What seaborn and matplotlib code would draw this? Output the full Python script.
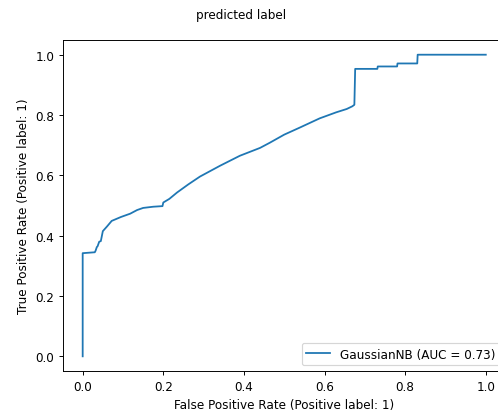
import matplotlib
matplotlib.use("Agg")
import matplotlib.pyplot as plt
import seaborn as sns
import pandas as pd

# ROC curve points (GaussianNB)
fpr = [0.0, 0.0, 0.030, 0.032, 0.035, 0.037, 0.041, 0.045, 0.047, 0.050,
       0.060, 0.072, 0.095, 0.118, 0.135, 0.150, 0.175, 0.198, 0.200, 0.215,
       0.234, 0.262, 0.291, 0.341, 0.390, 0.440, 0.464, 0.500, 0.538, 0.588,
       0.629, 0.655, 0.669, 0.674, 0.676, 0.731, 0.732, 0.780, 0.781, 0.830,
       0.831, 1.0]
tpr = [0.0, 0.342, 0.345, 0.350, 0.362, 0.365, 0.380, 0.382, 0.395, 0.415,
       0.430, 0.449, 0.462, 0.473, 0.485, 0.492, 0.496, 0.498, 0.510, 0.522,
       0.543, 0.570, 0.596, 0.632, 0.665, 0.691, 0.708, 0.735, 0.758, 0.789,
       0.809, 0.820, 0.829, 0.834, 0.953, 0.953, 0.961, 0.961, 0.971, 0.971,
       1.0, 1.0]
auc_label = "GaussianNB (AUC = 0.73)"

df = pd.DataFrame({"fpr": fpr, "tpr": tpr})

# reference looks like a default figure shrunk a bit, so render at a lower dpi
DPI = 86
fig = plt.figure(figsize=(499 / DPI, 412 / DPI), dpi=DPI)
ax = fig.add_axes([0.1253, 0.0961, 0.8886, 0.8053])

sns.lineplot(data=df, x="fpr", y="tpr", sort=False, estimator=None,
             color="#1f77b4", linewidth=1.5, label=auc_label, ax=ax)

ax.set_xlim(-0.05, 1.05)
ax.set_ylim(-0.05, 1.05)
ax.set_xticks([0.0, 0.2, 0.4, 0.6, 0.8, 1.0])
ax.set_yticks([0.0, 0.2, 0.4, 0.6, 0.8, 1.0])
ax.set_xlabel("False Positive Rate (Positive label: 1)")
ax.set_ylabel("True Positive Rate (Positive label: 1)")
ax.legend(loc="lower right")

fig.text(241 / 499, 1 - 15 / 412, "predicted label", ha="center", va="center")

fig.savefig("out.png", dpi=DPI)
